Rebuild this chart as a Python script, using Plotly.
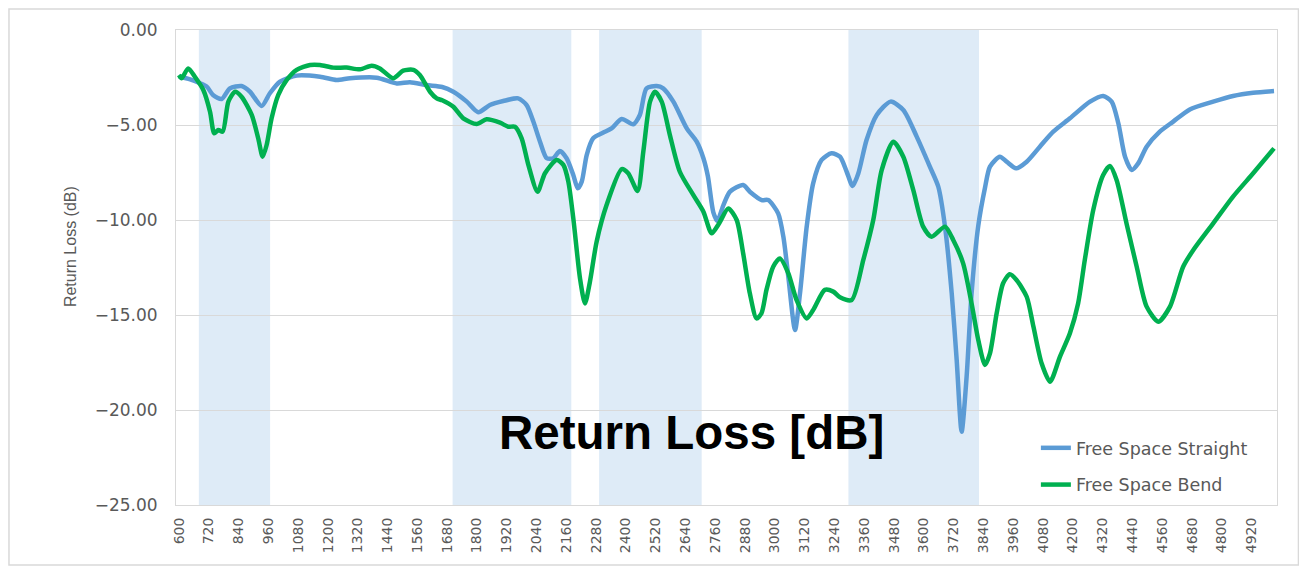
import plotly.graph_objects as go

# ---------------- data ----------------
freq_straight = [600, 645, 685, 712, 737, 772, 805, 852, 886, 933, 966, 1007, 1074, 1168, 1235,
                 1289, 1396, 1477, 1530, 1597, 1660, 1705, 1759, 1805, 1852, 1906, 1966, 2000,
                 2027, 2054, 2081, 2107, 2134, 2161, 2188, 2206, 2222, 2242, 2268, 2309, 2342,
                 2383, 2429, 2456, 2483, 2524, 2550, 2591, 2645, 2685, 2712, 2730, 2752, 2768,
                 2793, 2819, 2872, 2899, 2947, 2973, 3013, 3034, 3054, 3081, 3101, 3128, 3154,
                 3188, 3228, 3262, 3289, 3313, 3336, 3369, 3410, 3466, 3517, 3571, 3624, 3658,
                 3685, 3712, 3732, 3752, 3772, 3792, 3819, 3846, 3866, 3906, 3933, 3971, 4014,
                 4067, 4121, 4188, 4269, 4322, 4356, 4383, 4410, 4437, 4463, 4497, 4550, 4604,
                 4671, 4765, 4845, 4926, 5010]
rl_straight = [-2.45, -2.6, -2.8, -2.98, -3.42, -3.63, -3.07, -2.95, -3.25, -4.0, -3.33, -2.72,
               -2.4, -2.46, -2.63, -2.54, -2.51, -2.81, -2.75, -2.9, -3.0, -3.25, -3.77, -4.33,
               -3.95, -3.74, -3.6, -3.95, -4.82, -5.88, -6.75, -6.75, -6.37, -6.75, -7.63, -8.33,
               -7.98, -6.58, -5.7, -5.4, -5.18, -4.68, -4.96, -4.47, -3.07, -2.95, -3.07, -3.77,
               -5.18, -5.88, -6.75, -7.7, -9.6, -10.05, -9.2, -8.51, -8.16, -8.51, -8.95, -8.95,
               -9.65, -10.88, -12.98, -15.79, -13.86, -10.35, -8.07, -6.84, -6.49, -6.67, -7.46,
               -8.21, -7.54, -5.79, -4.47, -3.77, -4.21, -5.61, -7.19, -8.25, -10.35, -13.86,
               -17.37, -21.14, -18.25, -13.86, -10.3, -8.3, -7.19, -6.67, -6.93, -7.28, -6.93,
               -6.14, -5.35, -4.65, -3.77, -3.47, -3.77, -4.91, -6.67, -7.37, -7.02, -6.14, -5.35,
               -4.82, -4.18, -3.77, -3.47, -3.3, -3.21]

freq_bend = [600, 611, 637, 664, 698, 725, 742, 758, 776, 799, 826, 852, 893, 919, 937, 953, 973,
             1000, 1034, 1074, 1128, 1168, 1221, 1275, 1329, 1376, 1409, 1463, 1503, 1544, 1570,
             1611, 1638, 1660, 1705, 1745, 1799, 1839, 1893, 1926, 1953, 1980, 2007, 2044, 2074,
             2121, 2148, 2168, 2188, 2215, 2235, 2255, 2282, 2322, 2383, 2409, 2447, 2470, 2497,
             2517, 2544, 2577, 2617, 2671, 2712, 2745, 2775, 2812, 2846, 2872, 2899, 2926, 2946,
             2966, 2993, 3020, 3054, 3087, 3128, 3154, 3201, 3235, 3262, 3309, 3356, 3396, 3430,
             3477, 3517, 3557, 3597, 3631, 3685, 3718, 3758, 3792, 3819, 3846, 3866, 3893, 3919,
             3946, 3973, 4014, 4041, 4074, 4108, 4148, 4188, 4221, 4248, 4282, 4322, 4349, 4376,
             4416, 4457, 4497, 4544, 4591, 4644, 4685, 4765, 4845, 4926, 5010]
rl_bend = [-2.37, -2.54, -2.02, -2.46, -3.16, -4.3, -5.44, -5.26, -5.35, -3.77, -3.25, -3.51,
           -4.47, -5.7, -6.67, -6.05, -4.65, -3.42, -2.63, -2.1, -1.84, -1.84, -1.98, -1.98, -2.07,
           -1.88, -2.02, -2.54, -2.14, -2.1, -2.37, -3.25, -3.6, -3.7, -4.04, -4.65, -4.95, -4.7,
           -4.88, -5.09, -5.09, -5.7, -7.1, -8.51, -7.54, -6.84, -7.1, -7.98, -9.91, -13.07,
           -14.39, -13.25, -11.14, -9.21, -7.32, -7.54, -8.47, -6.4, -3.77, -3.25, -3.77, -5.53,
           -7.46, -8.68, -9.56, -10.7, -10.18, -9.39, -10.0, -11.75, -13.86, -15.18, -14.91,
           -13.68, -12.46, -12.02, -12.81, -14.21, -15.18, -14.74, -13.68, -13.77, -14.07,
           -14.21, -12.1, -10.0, -7.37, -5.88, -6.67, -8.42, -10.35, -10.88, -10.35, -11.05,
           -12.28, -14.39, -16.32, -17.63, -17.02, -14.91, -13.33, -12.86, -13.16, -14.04,
           -15.61, -17.54, -18.51, -17.19, -15.96, -14.39, -12.1, -9.47, -7.63, -7.16, -7.89,
           -10.18, -12.46, -14.56, -15.35, -14.56, -12.46, -11.58, -10.18, -8.77, -7.54, -6.23]

band_starts = [680, 1702, 2292, 3296]
band_ends = [967, 2180, 2705, 3822]

x_ticks = list(range(600, 4921, 120))
y_ticks = [0, -5, -10, -15, -20, -25]

series_names = ["Free Space Straight", "Free Space Bend"]
chart_title = "Return Loss [dB]"
y_title = "Return Loss (dB)"

# ---------------- figure ----------------
BLUE = "#5B9BD5"
GREEN = "#00B050"
GRID = "#D9D9D9"
TXT = "#595959"

fig = go.Figure()
fig.add_trace(go.Scatter(x=freq_straight, y=rl_straight, mode="lines", name=series_names[0],
                         legendgroup="a",
                         line=dict(color=BLUE, width=4.5, shape="spline", smoothing=0.7)))
fig.add_trace(go.Scatter(x=freq_bend, y=rl_bend, mode="lines", name=series_names[1],
                         legendgroup="b",
                         line=dict(color=GREEN, width=4.5, shape="spline", smoothing=0.7)))

shapes = []
for s, e in zip(band_starts, band_ends):
    shapes.append(dict(type="rect", xref="x", yref="paper", x0=s, x1=e, y0=0, y1=1,
                       fillcolor="#DEEBF7", line=dict(width=0), layer="between"))
# outer chart border
shapes.append(dict(type="rect", xref="paper", yref="paper",
                   x0=-0.1517, x1=1.0195, y0=-0.1263, y1=1.0442,
                   line=dict(color=GRID, width=1.5), fillcolor="rgba(0,0,0,0)", layer="below"))

fig.update_layout(
    width=1299, height=561,
    margin=dict(l=168, r=30, t=22, b=64),
    paper_bgcolor="white", plot_bgcolor="white",
    shapes=shapes,
    showlegend=True,
    legend=dict(x=0.781, y=0.158, xanchor="left", yanchor="top",
                bgcolor="rgba(0,0,0,0)", traceorder="grouped", tracegroupgap=11,
                font=dict(family="DejaVu Sans", size=17.5, color=TXT), itemwidth=30),
    xaxis=dict(range=[588, 5022], tickmode="array", tickvals=x_ticks,
               ticktext=[str(v) for v in x_ticks], tickangle=-90, showgrid=False,
               showline=True, mirror=True, linecolor=GRID, linewidth=1, ticks="",
               zeroline=False, ticklabelstandoff=6,
               tickfont=dict(family="DejaVu Sans", size=14, color=TXT)),
    yaxis=dict(range=[-25, 0], tickmode="array", tickvals=y_ticks, tickformat=".2f",
               showgrid=True, gridcolor=GRID, gridwidth=1, showline=True, mirror=True,
               linecolor=GRID, linewidth=1, ticks="", zeroline=False, ticklabelstandoff=14,
               tickfont=dict(family="DejaVu Sans", size=17, color=TXT)),
    annotations=[
        dict(text=chart_title, xref="paper", yref="paper", x=0.468, y=0.152,
             xanchor="center", yanchor="middle", showarrow=False,
             font=dict(family="Liberation Sans", size=47.5, color="black", weight="bold")),
        dict(text=y_title, xref="paper", yref="paper", x=-0.0963, y=0.545,
             xanchor="center", yanchor="middle", showarrow=False, textangle=-90,
             font=dict(family="Liberation Sans", size=16, color=TXT)),
    ],
)

fig.write_html("out.html")
